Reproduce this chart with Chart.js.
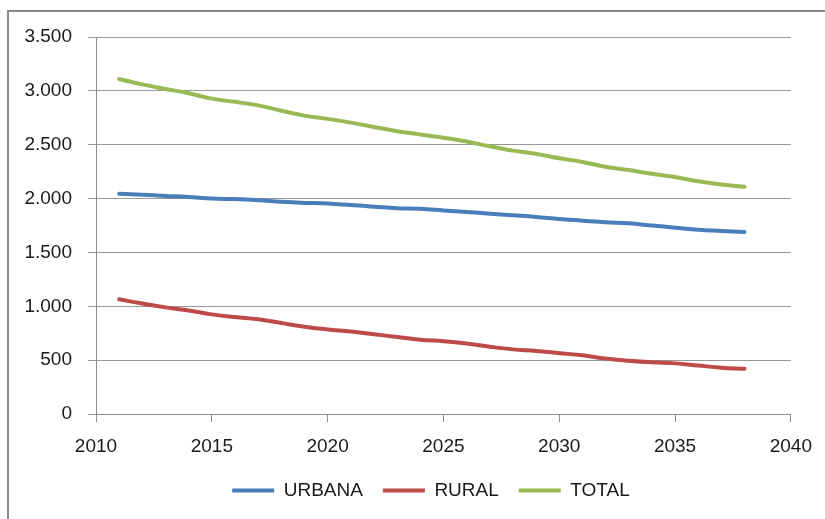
<!DOCTYPE html>
<html lang="es">
<head>
<meta charset="utf-8">
<title>Población urbana y rural</title>
<script src="https://cdn.jsdelivr.net/npm/chart.js@4.4.0/dist/chart.umd.min.js"></script>
<style>
    html, body { margin: 0; padding: 0; background: #fff; overflow: hidden; }
    #frame {
        position: absolute; left: 7px; top: 10px;
        width: 900px; height: 600px;
        border: 2px solid #8a8a8a;
    }
    #wrap { position: absolute; left: 0; top: 0; width: 825px; height: 519px; }
</style>
</head>
<body>
<div id="frame"></div>
<div id="wrap"><canvas id="popChart" width="825" height="519"></canvas></div>

<script>
// years on the x axis
const years = [2011, 2012, 2013, 2014, 2015, 2016, 2017, 2018, 2019, 2020,
               2021, 2022, 2023, 2024, 2025, 2026, 2027, 2028, 2029, 2030,
               2031, 2032, 2033, 2034, 2035, 2036, 2037, 2038];

const urbana = [2045, 2035, 2025, 2015, 2000, 1995, 1985, 1970, 1960, 1955,
                1940, 1925, 1910, 1905, 1890, 1875, 1860, 1845, 1830, 1810,
                1795, 1780, 1770, 1750, 1730, 1710, 1700, 1690];

const rural = [1065, 1025, 990, 960, 925, 900, 880, 845, 810, 785,
               765, 740, 715, 690, 675, 655, 625, 600, 585, 565,
               545, 515, 495, 480, 470, 450, 430, 420];

const total = [3110, 3060, 3018, 2978, 2928, 2898, 2865, 2815, 2770, 2740,
               2705, 2665, 2625, 2595, 2565, 2530, 2485, 2445, 2415, 2375,
               2340, 2295, 2265, 2230, 2200, 2160, 2130, 2110];

const xTickLabels = ["2010", "2015", "2020", "2025", "2030", "2035", "2040"];
const yTickLabels = ["0", "500", "1.000", "1.500", "2.000", "2.500", "3.000", "3.500"];

const seriesNames = ["URBANA", "RURAL", "TOTAL"];
const seriesColors = ["#4a7ebb", "#be4b48", "#98b954"];

// legend sits centred on the whole frame, not on the plot
const legendShift = {
    id: "legendShift",
    afterLayout: function (chart) {
        chart.legend.left += 31;
        chart.legend.right += 31;
    }
};

document.addEventListener("DOMContentLoaded", function () {

    const toPoints = function (values) {
        return values.map(function (v, i) { return { x: years[i], y: v }; });
    };

    const ctx = document.getElementById("popChart").getContext("2d");
    const axisGray = "#8c8c8c";

    new Chart(ctx, {
        type: "line",
        data: {
            datasets: [urbana, rural, total].map(function (values, i) {
                return {
                    label: seriesNames[i],
                    data: toPoints(values),
                    borderColor: seriesColors[i],
                    backgroundColor: seriesColors[i],
                    borderWidth: 4,
                    borderCapStyle: "round",
                    pointRadius: 0,
                    tension: 0.4,
                    fill: false
                };
            })
        },
        plugins: [legendShift],
        options: {
            responsive: false,
            animation: false,
            layout: {
                padding: { left: 8, right: 33, top: 37, bottom: 9 }
            },
            plugins: {
                tooltip: { enabled: false },
                legend: {
                    position: "bottom",
                    labels: {
                        boxWidth: 42,
                        boxHeight: 4,
                        padding: 20,
                        color: "#1a1a1a",
                        font: { family: "Liberation Sans", size: 19 },
                        generateLabels: function (chart) {
                            const items = Chart.defaults.plugins.legend.labels.generateLabels(chart);
                            items.forEach(function (it) { it.lineWidth = 0; });
                            return items;
                        }
                    }
                }
            },
            scales: {
                x: {
                    type: "linear",
                    min: 2010,
                    max: 2040,
                    afterFit: function (axis) { axis.height = 47; },
                    ticks: {
                        stepSize: 5,
                        padding: 13,
                        maxRotation: 0,
                        color: "#1a1a1a",
                        font: { family: "Liberation Sans", size: 19 },
                        callback: function (value) {
                            return xTickLabels[(value - 2010) / 5];
                        }
                    },
                    grid: {
                        drawOnChartArea: false,
                        drawTicks: true,
                        tickLength: 8,
                        color: axisGray
                    },
                    border: { color: axisGray, width: 1 }
                },
                y: {
                    min: 0,
                    max: 3500,
                    afterFit: function (axis) { axis.width = 88; },
                    ticks: {
                        stepSize: 500,
                        padding: 16,
                        color: "#1a1a1a",
                        font: { family: "Liberation Sans", size: 19 },
                        callback: function (value) {
                            return yTickLabels[value / 500];
                        }
                    },
                    grid: {
                        color: "#979797",
                        tickLength: 8
                    },
                    border: { color: axisGray, width: 1 }
                }
            }
        }
    });
});
</script>
</body>
</html>
